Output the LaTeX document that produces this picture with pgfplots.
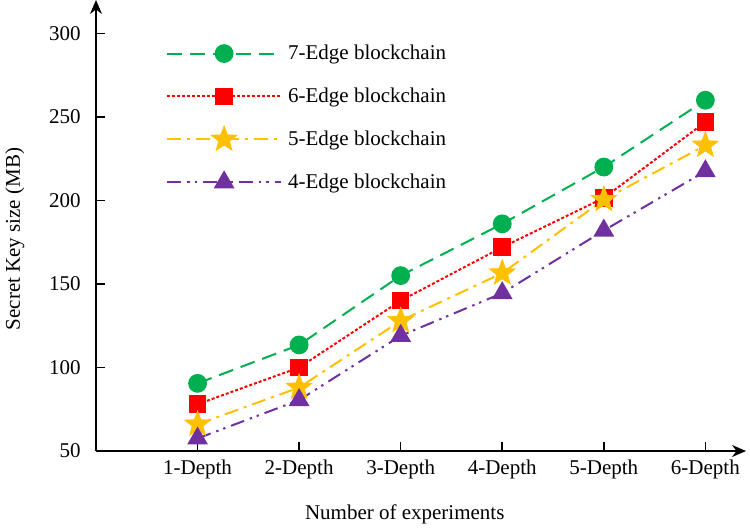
\documentclass[border=0pt]{standalone}
\usepackage{pgfplots}
\pgfplotsset{compat=1.18}
\usepackage{fontspec}
\setmainfont{Liberation Serif}
\usetikzlibrary{arrows.meta}
\definecolor{cgreen}{RGB}{0,176,80}
\definecolor{cred}{RGB}{255,0,0}
\definecolor{cgold}{RGB}{255,192,0}
\definecolor{cpurple}{RGB}{112,48,160}
\pgfdeclareplotmark{fstar}{%
  \pgfpathmoveto{\pgfpointpolar{90}{\pgfplotmarksize}}%
  \pgfpathlineto{\pgfpointpolar{126}{0.42\pgfplotmarksize}}%
  \pgfpathlineto{\pgfpointpolar{162}{\pgfplotmarksize}}%
  \pgfpathlineto{\pgfpointpolar{198}{0.42\pgfplotmarksize}}%
  \pgfpathlineto{\pgfpointpolar{234}{\pgfplotmarksize}}%
  \pgfpathlineto{\pgfpointpolar{270}{0.42\pgfplotmarksize}}%
  \pgfpathlineto{\pgfpointpolar{306}{\pgfplotmarksize}}%
  \pgfpathlineto{\pgfpointpolar{342}{0.42\pgfplotmarksize}}%
  \pgfpathlineto{\pgfpointpolar{18}{\pgfplotmarksize}}%
  \pgfpathlineto{\pgfpointpolar{54}{0.42\pgfplotmarksize}}%
  \pgfpathclose
  \pgfusepathqfillstroke}
\begin{document}
\fontsize{10.5}{12}\selectfont
\begin{tikzpicture}
\begin{axis}[
  scale only axis, width=325pt, height=225.5pt,
  xmin=0, xmax=6.4, ymin=50, ymax=320,
  axis lines=left,
  axis line style={line width=0.8pt, -{Stealth[length=7pt,width=6pt]}},
  xtick={1,2,3,4,5,6},
  xticklabels={1-Depth,2-Depth,3-Depth,4-Depth,5-Depth,6-Depth},
  ytick={50,100,150,200,250,300},
  tick style={black, line width=0.8pt},
  tick align=inside, major tick length=4.5pt,
  /pgf/number format/assume math mode=true,
  ticklabel style={font=\fontsize{10.5}{12}\selectfont},
  yticklabel style={xshift=-4pt},
  xticklabel style={yshift=-1pt},
  label style={font=\fontsize{10.5}{12}\selectfont},
  xlabel={Number of experiments},
  ylabel={Secret Key size (MB)},
  xlabel style={at={(axis description cs:0.475,0)}, anchor=base, yshift=-34pt},
  ylabel style={at={(axis description cs:-0.125,0.47)}, anchor=center},
  clip=false,
  legend style={at={(axis description cs:0.098,0.924)}, anchor=north west,
    draw=none, fill=none, row sep=6.6pt, font=\fontsize{10.5}{12}\selectfont,
    nodes={inner sep=3pt}},
  legend cell align=left,
  legend image code/.code={
    \draw[mark repeat=2,mark phase=2,#1] plot coordinates {(0pt,0pt) (28.5pt,0pt) (57pt,0pt)};},
]
\addplot[cgreen, line width=1pt, dash pattern=on 7.5pt off 4pt,
  mark=*, mark size=4.2pt, mark options={solid, fill=cgreen, draw=cgreen}]
  coordinates {(1,90.5) (2,113.5) (3,155) (4,186) (5,220) (6,260)};
\addlegendentry{7-Edge blockchain}
\addplot[cred, line width=1pt, dash pattern=on 1.5pt off 1pt,
  mark=square*, mark size=3.9pt, mark options={solid, fill=cred, draw=cred}]
  coordinates {(1,78) (2,100) (3,140) (4,172) (5,201.5) (6,247)};
\addlegendentry{6-Edge blockchain}
\addplot[cgold, line width=1pt, dash pattern=on 7pt off 3pt on 1.5pt off 3pt,
  mark=fstar, mark size=6.8pt, mark options={solid, fill=cgold, draw=cgold, line width=0.3pt}]
  coordinates {(1,66) (2,88) (3,128) (4,156.5) (5,200.5) (6,233)};
\addlegendentry{5-Edge blockchain}
\addplot[cpurple, line width=1pt, dash pattern=on 7pt off 3pt on 1.2pt off 2.5pt on 1.2pt off 3pt,
  mark=triangle*, mark size=5pt, mark options={solid, fill=cpurple, draw=cpurple}]
  coordinates {(1,57.5) (2,80.5) (3,119) (4,144.5) (5,182) (6,217.5)};
\addlegendentry{4-Edge blockchain}
\coordinate (ll) at (rel axis cs:0,0);
\end{axis}
\pgfresetboundingbox
\path[use as bounding box] ([xshift=-48pt,yshift=-38pt]ll) rectangle ++(375pt,263.5pt);
\end{tikzpicture}
\end{document}
